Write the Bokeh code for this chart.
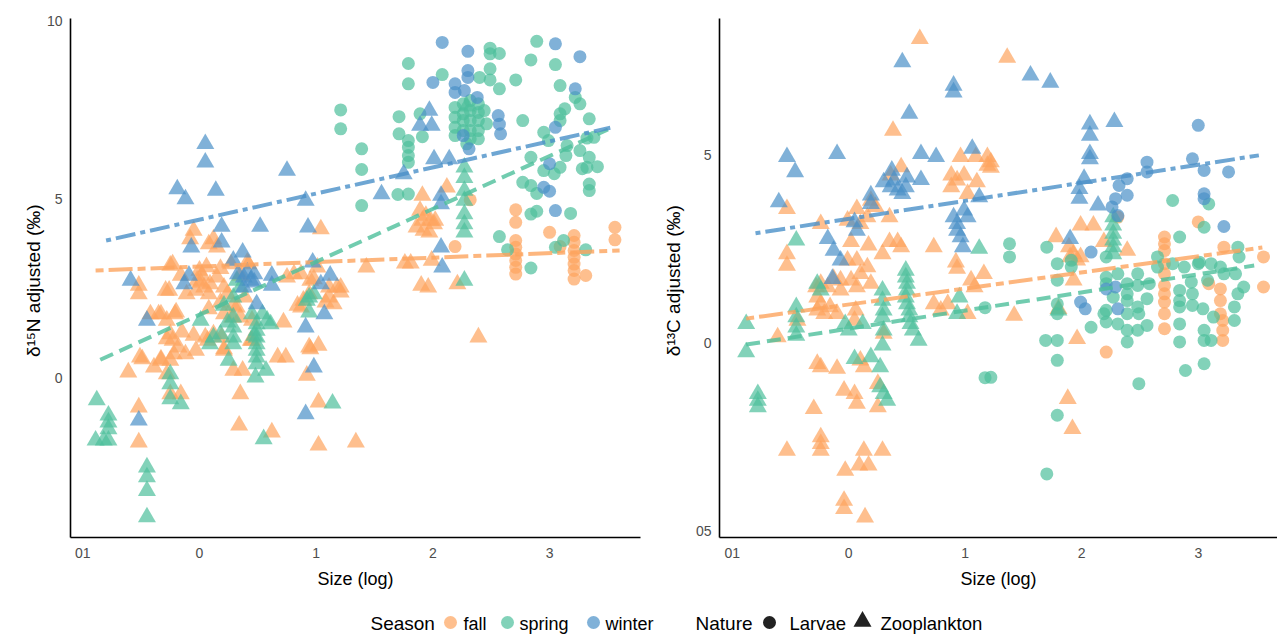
from bokeh.plotting import figure
from bokeh.layouts import column, row
from bokeh.models import FixedTicker, Range1d
from bokeh.embed import file_html
from bokeh.resources import INLINE
from bokeh.core.properties import value

# ---------------- data : left panel (d15N) ----------------
N15_FALL_LARVAE = [(2.71,4.7),(2.71,4.35),(2.71,3.84),(2.71,3.65),(2.71,3.46),(2.71,3.28),(2.71,3.09),(2.71,2.9),
    (2.19,3.67),(2.32,4.98),(3.0,4.07),(3.09,3.67),(3.21,3.98),(3.21,3.79),(3.21,3.56),(3.21,3.37),(3.21,3.18),
    (3.21,3.0),(3.21,2.76),(3.31,2.86),(3.56,4.21),(3.56,3.86)]
N15_FALL_ZOO = [(-0.05,4.12),(-0.08,3.88),(0.08,3.74),(0.12,3.88),(0.15,3.65),(1.04,4.16),(-0.23,3.18),(-0.52,2.58),
    (-0.52,2.34),(-0.26,2.44),(-0.11,2.34),(-0.02,2.72),(0.02,2.86),(0.04,2.53),(0.09,2.62),(0.15,2.81),(0.21,2.53),
    (0.24,2.34),(-0.03,2.44),(0.08,2.34),(0.0,3.0),(0.06,3.1),(0.18,3.05),(0.42,3.18),(0.27,3.18),(0.39,2.25),
    (0.32,1.97),(0.28,1.69),(0.35,1.69),(-0.42,1.78),(-0.35,1.78),(-0.2,1.83),(-0.28,1.6),(-0.25,1.22),(-0.23,1.04),
    (-0.18,0.85),(-0.22,0.66),(-0.25,0.48),(-0.28,0.1),(-0.25,-0.46),(-0.16,-0.46),(-0.61,0.15),(-0.49,0.52),
    (-0.39,0.29),(-0.33,0.48),(-0.12,0.66),(-0.03,0.76),(0.05,1.13),(0.12,1.22),(0.19,1.13),(0.21,0.76),(0.29,0.2),
    (0.37,0.2),(0.35,-0.46),(0.34,-1.34),(0.62,-1.53),(0.72,1.55),(0.74,0.57),(0.89,2.16),(0.94,2.34),(0.87,1.97),
    (0.95,0.8),(1.02,0.9),(0.92,0.06),(1.02,-0.69),(1.02,-1.9),(1.34,-1.81),(1.11,2.25),(1.15,2.06),(1.18,2.53),
    (1.21,2.39),(1.11,2.53),(0.95,2.72),(0.87,2.9),(1.01,3.09),(0.81,2.9),(-0.52,-0.83),(-0.52,-1.81),(0.75,2.81),
    (0.45,1.04),(1.21,2.53),(-0.25,3.14),(-0.16,2.86),(-0.29,2.44),(0.01,2.67),(0.18,2.11),(0.29,2.02),(0.08,1.92),
    (0.21,1.78),(-0.33,1.78),(-0.21,1.78),(-0.15,1.27),(-0.28,1.08),(-0.05,1.18),(0.07,1.04),(0.21,0.8),(-0.51,0.57),
    (-0.33,0.52),(0.44,1.04),(0.45,1.6),(0.84,2.02),(1.08,2.11),(0.98,2.76),(0.41,3.23),(0.35,2.86),(0.94,0.85),
    (0.67,0.57),(2.12,5.33),(1.91,5.1),(1.89,4.68),(1.94,4.54),(1.98,4.4),(2.01,4.3),(1.86,4.21),(1.92,4.12),
    (1.97,4.07),(2.02,4.4),(1.91,4.4),(1.43,3.09),(1.76,3.2),(1.81,3.2),(1.99,3.28),(1.90,2.58),(1.96,2.53),
    (2.21,2.62),(2.39,1.13)]
N15_SPRING_LARVAE = [(1.79,8.8),(1.79,8.23),(2.08,8.49),(1.71,7.31),(1.89,7.39),(1.71,6.83),(1.91,6.75),(1.79,6.64),
    (1.79,6.45),(1.79,6.22),(1.79,6.03),(1.70,5.13),(1.79,5.14),(1.39,6.41),(1.39,5.83),(1.39,4.82),(1.21,7.5),
    (1.21,6.97),(2.49,9.23),(2.49,9.07),(2.57,9.08),(2.49,8.65),(2.49,8.34),(2.40,8.41),(2.57,8.09),(2.71,8.34),
    (2.84,8.9),(2.89,9.42),(3.05,8.77),(3.09,8.18),(3.22,7.85),(3.26,7.67),(3.13,7.53),(3.09,7.39),(3.09,7.2),
    (3.34,7.25),(3.38,6.73),(3.32,6.71),(2.77,7.2),(2.95,6.87),(2.99,6.64),(3.15,6.5),(3.14,6.22),(3.26,6.36),
    (3.34,6.17),(3.41,5.91),(3.32,5.89),(3.28,5.85),(3.09,5.89),(2.95,5.8),(3.04,5.71),(2.84,6.17),(2.77,5.47),
    (2.84,5.38),(2.89,5.16),(3.34,5.42),(3.34,5.24),(2.84,4.58),(2.89,4.66),(3.18,4.6),(2.57,3.95),(2.64,3.58),
    (2.84,3.07),(3.05,3.65),(3.31,3.58),(3.12,3.84),(2.19,7.57),(2.19,7.29),(2.19,7.01),(2.19,6.78),(2.26,7.67),
    (2.26,7.39),(2.26,7.2),(2.26,6.92),(2.32,7.76),(2.32,7.48),(2.32,7.2),(2.32,6.92),(2.32,6.69),(2.39,7.67),
    (2.39,7.43),(2.39,7.2),(2.39,6.92),(2.39,6.69),(2.44,7.48),(2.46,7.11),(2.29,6.55)]
N15_SPRING_ZOO = [(-0.88,-0.63),(-0.78,-1.06),(-0.78,-1.25),(-0.78,-1.44),(-0.82,-1.76),(-0.89,-1.76),(-0.78,-1.76),
    (-0.45,-2.51),(-0.45,-2.79),(-0.45,-3.17),(-0.45,-3.91),(-0.25,0.1),(-0.25,-0.18),(-0.25,-0.6),(-0.16,-0.74),
    (0.01,1.6),(0.09,0.94),(0.12,1.13),(0.18,1.22),(0.25,0.48),(0.29,1.69),(0.29,1.41),(0.29,1.13),(0.29,0.94),
    (0.49,1.5),(0.49,1.32),(0.49,1.13),(0.49,0.94),(0.49,0.76),(0.49,0.57),(0.49,0.38),(0.48,0.01),(0.58,1.6),
    (0.57,0.2),(0.55,-1.72),(1.14,-0.72),(0.94,2.25),(0.94,1.83),(0.32,2.72),(0.35,2.53),(0.45,1.78),(0.54,1.78),
    (0.21,2.02),(0.29,2.25),(0.24,1.55),(0.47,1.18),(0.61,1.5),(0.92,2.16),(0.98,2.34),
    (2.27,5.89),(2.27,5.6),(2.27,5.24),(2.27,4.96),(2.27,4.58),(2.27,4.3),(2.27,4.07),(2.27,2.72),(2.29,7.6)]
N15_WINTER_LARVAE = [(2.08,9.39),(2.30,9.14),(3.05,9.35),(3.26,8.99),(2.30,8.6),(2.30,8.41),(2.0,8.27),(2.19,8.23),
    (2.19,7.99),(2.27,8.04),(2.38,7.85),(2.56,7.34),(2.57,7.1),(2.58,6.83),(2.26,6.78),(2.31,6.41),(3.22,8.09),
    (3.05,7.01),(3.0,5.99),(2.95,5.33),(3.0,5.22),(3.05,4.68)]
N15_WINTER_ZOO = [(0.05,6.55),(0.05,6.03),(0.75,5.8),(-0.19,5.28),(-0.12,5.0),(0.14,5.24),(0.91,4.96),(0.93,4.21),
    (0.52,4.23),(0.19,4.23),(0.19,3.79),(-0.07,3.65),(0.37,3.51),(0.38,2.81),(0.44,2.72),(0.41,2.95),(0.33,2.9),
    (0.47,2.9),(-0.09,2.86),(-0.13,2.62),(-0.59,2.72),(0.62,2.86),(0.97,3.23),(1.12,2.86),(1.07,1.78),(-0.45,1.6),
    (0.91,1.41),(0.98,0.29),(0.91,-1.02),(-0.52,-1.2),(0.49,2.06),(0.29,3.28),(0.47,2.67),(0.38,2.53),(0.62,2.58),
    (1.04,2.62),(1.97,7.48),(1.89,7.06),(1.99,7.06),(2.01,6.12),(2.14,6.12),(1.75,5.7),(1.56,5.14),(2.07,5.1),
    (2.07,4.86),(2.07,3.65),(2.08,3.09)]
N15_FIT_FALL = [(-0.89, 3.0), (3.6, 3.56)]
N15_FIT_SPRING = [(-0.85, 0.5), (3.5, 6.95)]
N15_FIT_WINTER = [(-0.8, 3.84), (3.52, 7.0)]

# ---------------- data : right panel (d13C) ----------------
C13_FALL_LARVAE = [(2.71,2.83),(2.71,2.65),(2.71,2.47),(2.71,2.12),(2.71,1.85),(2.71,1.54),(2.71,1.32),(2.71,1.1),
    (2.71,0.79),(2.71,0.39),(3.0,3.23),(3.22,2.56),(3.09,1.59),(3.19,1.45),(3.19,1.14),(3.19,0.79),(3.21,0.61),
    (3.21,0.35),(3.21,0.08),(3.56,2.3),(3.56,1.5),(2.21,-0.23),(2.31,3.36)]
C13_FALL_ZOO = [(0.61,8.1),(1.36,7.6),(0.38,5.66),(0.96,4.96),(1.09,4.96),(1.19,4.96),(1.19,4.73),(0.88,4.47),
    (0.99,4.47),(1.10,4.29),(0.88,4.16),(1.02,3.98),(0.93,4.34),(0.45,4.69),(0.36,4.47),(-0.53,3.58),(0.07,3.58),
    (0.19,3.8),(0.23,3.63),(0.16,3.36),(0.10,3.18),(-0.01,3.27),(-0.24,3.18),(0.35,3.36),(0.02,2.7),(0.17,2.61),
    (0.29,2.38),(0.35,2.7),(0.42,2.7),(0.45,2.56),(0.73,2.56),(-0.53,2.38),(-0.53,2.07),(-0.01,2.21),(0.07,2.21),
    (0.16,2.03),(0.10,1.85),(0.02,1.68),(-0.07,1.68),(-0.13,1.72),(-0.24,1.59),(-0.28,1.5),(-0.18,1.5),(-0.07,1.41),
    (0.07,1.5),(0.19,1.59),(-0.27,1.23),(-0.24,1.05),(-0.16,0.97),(-0.27,0.88),(-0.21,0.79),(-0.1,0.79),(0.06,0.88),
    (0.05,0.61),(-0.61,0.17),(-0.44,0.61),(0.73,1.05),(0.85,1.05),(0.79,0.88),(1.05,1.68),(1.16,1.85),(1.08,1.5),
    (0.92,2.16),(0.93,1.99),(1.02,0.79),(0.3,0.26),(-0.24,-0.63),(-0.27,-0.54),(-0.1,-0.67),(0.10,-0.45),
    (0.13,-0.63),(-0.3,-1.74),(-0.53,-2.85),(-0.24,-2.49),(-0.24,-2.67),(-0.24,-2.85),(-0.04,-1.25),(0.05,-1.34),
    (0.07,-1.6),(0.25,-1.07),(0.25,-1.69),(-0.03,-3.38),(0.09,-3.24),(0.17,-3.24),(0.13,-2.85),(0.29,-2.85),
    (-0.04,-4.18),(-0.04,-4.4),(0.14,-4.62),(1.22,4.82),(1.22,4.68),(1.99,3.14),(2.1,3.14),(1.78,2.83),(1.89,2.56),
    (1.93,2.38),(1.99,2.3),(1.90,2.3),(1.96,2.21),(2.39,2.47),(2.19,2.7),(1.93,1.68),(1.80,0.92),(1.96,0.12),
    (1.42,0.74),(1.88,-1.47),(1.92,-2.27)]
C13_SPRING_LARVAE = [(1.17,0.95),(1.17,-0.91),(1.38,2.65),(1.38,2.3),(1.70,2.56),(1.79,2.12),(1.79,1.68),(1.91,2.21),
    (1.91,2.03),(1.79,1.05),(1.79,0.79),(1.69,0.08),(1.79,0.08),(1.79,-0.45),(1.79,-1.91),(1.70,-3.47),(1.22,-0.9),
    (2.21,2.3),(2.21,1.76),(2.21,1.59),(2.21,0.88),(2.21,0.57),(2.31,0.52),(2.31,1.85),(2.27,1.23),(2.39,1.59),
    (2.39,1.32),(2.39,1.14),(2.39,0.79),(2.48,1.85),(2.48,1.54),(2.48,0.97),(2.49,0.79),(2.58,1.59),(2.56,1.19),
    (2.56,0.48),(2.48,0.35),(2.39,0.35),(2.39,0.04),(2.08,0.43),(2.19,0.79),(2.78,3.8),(2.84,2.83),(2.65,2.3),
    (2.65,2.03),(2.78,2.12),(2.84,1.41),(2.84,1.14),(2.84,0.97),(2.84,0.52),(2.84,0.04),(2.88,2.03),(2.89,-0.72),
    (3.05,-0.54),(2.49,-1.07),(2.95,1.32),(2.95,1.01),(3.04,0.92),(3.05,0.35),(3.05,0.08),(3.11,0.08),(3.0,2.12),
    (3.11,2.12),(3.19,2.03),(3.22,1.85),(3.34,2.56),(3.35,2.3),(3.32,1.85),(3.34,1.32),(3.39,1.5),(3.31,0.97),
    (3.31,0.61),(3.13,0.7),(3.08,1.68),(3.09,3.71),(3.05,3.09),(3.01,2.16),(2.94,1.63)]
C13_SPRING_ZOO = [(-0.88,0.52),(-0.88,-0.23),(-0.78,-1.34),(-0.78,-1.52),(-0.78,-1.69),(-0.45,2.74),(-0.45,0.97),
    (-0.45,0.7),(-0.45,0.43),(-0.45,0.21),(-0.27,1.59),(-0.24,1.41),(-0.03,0.52),(0.0,0.35),(0.05,-0.41),(0.19,-0.36),
    (0.12,0.52),(0.27,-1.16),(0.30,-1.34),(0.33,-1.52),(0.27,-0.63),(0.29,1.41),(0.29,1.14),(0.3,0.88),(0.29,0.7),
    (0.29,-0.05),(0.3,0.35),(0.49,1.94),(0.49,1.76),(0.5,1.59),(0.5,1.41),(0.49,1.23),(0.5,1.05),(0.52,0.88),
    (0.52,0.7),(0.53,0.52),(0.55,0.35),(0.6,0.08),(0.95,1.23),(0.93,0.79),(1.12,2.52),(2.27,3.36),(2.27,3.14),
    (2.27,2.92),(2.27,2.74),(2.27,2.56),(2.27,2.38),(1.80,0.88)]
C13_WINTER_LARVAE = [(3.0,5.8),(2.95,4.91),(3.05,4.6),(3.26,4.56),(2.56,4.82),(2.56,4.56),(2.39,4.38),(2.32,4.2),
    (2.39,3.94),(2.29,3.85),(2.26,3.63),(2.31,3.4),(3.05,3.98),(3.05,3.85),(3.22,3.11),(2.08,2.43),(2.21,1.45),
    (1.99,1.1),(2.03,0.92),(2.31,0.92),(2.29,1.5)]
C13_WINTER_ZOO = [(0.46,7.48),(0.90,6.86),(0.90,6.68),(0.52,6.11),(-0.53,4.96),(-0.46,4.56),(-0.10,5.04),(0.62,5.04),
    (0.75,4.96),(1.06,5.18),(0.37,4.6),(0.30,4.29),(0.36,4.16),(0.42,4.07),(0.46,3.98),(0.49,4.16),(0.39,4.34),
    (0.5,4.42),(0.62,4.35),(0.19,3.94),(0.19,3.71),(-0.6,3.76),(0.05,3.23),(0.07,3.0),(-0.18,2.78),(-0.13,2.47),
    (-0.07,2.21),(-0.14,1.72),(1.12,3.89),(0.90,3.36),(0.93,3.18),(0.93,3.0),(0.96,2.83),(0.99,3.54),(1.02,3.36),
    (0.98,2.56),(1.56,7.13),(1.73,6.94),(2.07,5.83),(2.07,5.53),(2.07,5.04),(2.07,4.9),(2.28,5.89),(2.02,4.38),
    (1.98,4.11),(1.98,3.85),(2.14,3.67),(1.90,2.78)]
C13_FIT_FALL = [(-0.88, 0.66), (3.55, 2.55)]
C13_FIT_SPRING = [(-0.88, -0.03), (3.48, 2.07)]
C13_FIT_WINTER = [(-0.8, 2.93), (3.52, 5.0)]

SEASONS = ["fall", "spring", "winter"]
NATURES = ["Larvae", "Zooplankton"]
X_TICKS = [-1, 0, 1, 2, 3]
X_TICK_LABELS = ["01", "0", "1", "2", "3"]
N15_Y_TICKS = [0, 5, 10]
N15_Y_TICK_LABELS = ["0", "5", "10"]
C13_Y_TICKS = [-5, 0, 5]
C13_Y_TICK_LABELS = ["05", "0", "5"]

COLORS = {"fall": "#FDA45E", "spring": "#4DBF9B", "winter": "#4A90C8"}
DASHES = {"fall": "8 5 24 5", "spring": "14 7", "winter": "5 5 20 5"}
FONT = "Liberation Sans"


def unzip(pairs):
    return [a for a, b in pairs], [b for a, b in pairs]


def panel(groups, fits, ylab, xr, yr, yticks, ylabels, width, mbl, mbr, ylab_standoff):
    p = figure(width=width, height=595, x_range=Range1d(*xr), y_range=Range1d(*yr),
               output_backend="svg", toolbar_location=None,
               min_border_left=mbl, min_border_right=mbr, min_border_top=18, min_border_bottom=58,
               x_axis_label="Size (log)", y_axis_label=ylab)
    p.outline_line_color = None
    p.xgrid.visible = False
    p.ygrid.visible = False
    for s in SEASONS:
        lx, ly = unzip(groups[s][0])
        zx, zy = unzip(groups[s][1])
        p.scatter(zx, zy, marker="triangle", size=18, fill_color=COLORS[s], fill_alpha=0.7, line_color=None)
        p.scatter(lx, ly, marker="circle", size=13, fill_color=COLORS[s], fill_alpha=0.7, line_color=None)
    for s in SEASONS:
        fx, fy = unzip(fits[s])
        p.line(fx, fy, line_color=COLORS[s], line_width=4, line_alpha=0.8, line_dash=DASHES[s])
    for ax in (p.xaxis[0], p.yaxis[0]):
        ax.axis_line_color = "black"
        ax.axis_line_width = 1.6
        ax.major_tick_line_color = None
        ax.minor_tick_line_color = None
        ax.major_tick_out = 0
        ax.major_tick_in = 0
        ax.minor_tick_out = 0
        ax.major_label_text_font = FONT
        ax.major_label_text_font_size = "14px"
        ax.major_label_text_color = "#4D4D4D"
        ax.axis_label_text_font = FONT
        ax.axis_label_text_font_style = "normal"
        ax.axis_label_text_color = "black"
    p.xaxis.axis_label_text_font_size = "18px"
    p.yaxis.axis_label_text_font_size = "19px"
    p.xaxis.ticker = FixedTicker(ticks=X_TICKS)
    p.xaxis.major_label_overrides = dict(zip(X_TICKS, X_TICK_LABELS))
    p.xaxis.major_label_standoff = 10
    p.xaxis.axis_label_standoff = 8
    p.yaxis.ticker = FixedTicker(ticks=yticks)
    p.yaxis.major_label_overrides = dict(zip(yticks, ylabels))
    p.yaxis.major_label_standoff = 8
    p.yaxis.axis_label_standoff = ylab_standoff
    return p


left_groups = {"fall": (N15_FALL_LARVAE, N15_FALL_ZOO), "spring": (N15_SPRING_LARVAE, N15_SPRING_ZOO),
               "winter": (N15_WINTER_LARVAE, N15_WINTER_ZOO)}
left_fits = {"fall": N15_FIT_FALL, "spring": N15_FIT_SPRING, "winter": N15_FIT_WINTER}
right_groups = {"fall": (C13_FALL_LARVAE, C13_FALL_ZOO), "spring": (C13_SPRING_LARVAE, C13_SPRING_ZOO),
                "winter": (C13_WINTER_LARVAE, C13_WINTER_ZOO)}
right_fits = {"fall": C13_FIT_FALL, "spring": C13_FIT_SPRING, "winter": C13_FIT_WINTER}

p1 = panel(left_groups, left_fits, "δ¹⁵N  adjusted (‰)", (-1.105, 3.779), (-4.48, 10.06),
           N15_Y_TICKS, N15_Y_TICK_LABELS, 648, 70, 8, 0)
p2 = panel(right_groups, right_fits, "δ¹³C  adjusted (‰)", (-1.109, 3.68), (-5.16, 8.64),
           C13_Y_TICKS, C13_Y_TICK_LABELS, 629, 71, 0, 9)

# ---------------- legend strip ----------------
lg = figure(width=1277, height=40, x_range=Range1d(0, 1277), y_range=Range1d(0, 40),
            output_backend="svg", toolbar_location=None, min_border=0,
            x_axis_type=None, y_axis_type=None)
lg.outline_line_color = None
lg.xgrid.visible = False
lg.ygrid.visible = False
yc = 12
lg.text(x=[370, 695], y=[yc, yc], text=["Season", "Nature"], text_font=value(FONT),
        text_font_size="19px", text_baseline="middle", text_color="black")
lg.scatter(x=[450, 507, 593], y=[yc + 1, yc + 1, yc + 1], marker="circle", size=13,
           fill_color=[COLORS[s] for s in SEASONS], fill_alpha=0.7, line_color=None)
lg.text(x=[463, 519, 605], y=[yc, yc, yc], text=SEASONS, text_font=value(FONT),
        text_font_size="18px", text_baseline="middle", text_color="black")
lg.scatter(x=[769], y=[yc + 1], marker="circle", size=13, fill_color="#222222", line_color=None)
lg.scatter(x=[862], y=[yc + 2], marker="triangle", size=18, fill_color="#222222", line_color=None)
lg.text(x=[789, 880], y=[yc, yc], text=NATURES, text_font=value(FONT),
        text_font_size="18.5px", text_baseline="middle", text_color="black")

layout = column(row(p1, p2), lg)
open("out.html", "w").write(file_html(layout, INLINE))
